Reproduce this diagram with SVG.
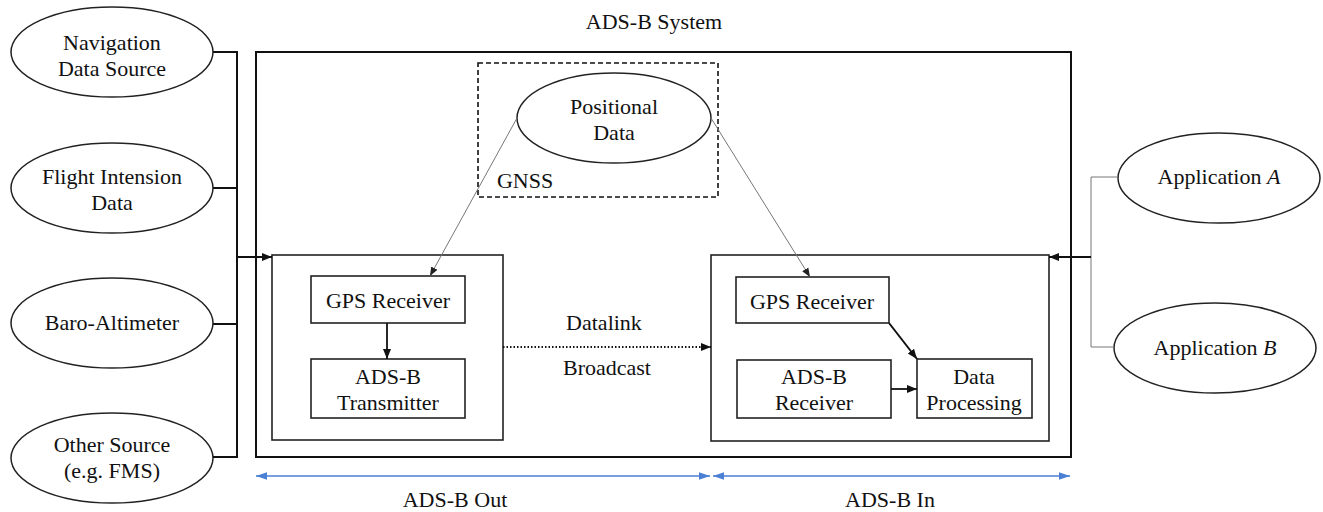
<svg xmlns="http://www.w3.org/2000/svg" width="1323" height="512" viewBox="0 0 1323 512" font-family="Liberation Serif, serif">
<style>
text{font-family:"Liberation Serif",serif;font-size:22px;fill:#111;text-anchor:middle}
.el{fill:#fff;stroke:#222;stroke-width:1.5}
.box{fill:#fff;stroke:#222;stroke-width:1.6}
.thick{fill:none;stroke:#111;stroke-width:2}
.thin{fill:none;stroke:#777;stroke-width:1}
.blue{fill:none;stroke:#4a7fd4;stroke-width:1.3}
</style>
<defs>
<marker id="ah" viewBox="0 0 10 10" refX="10" refY="5" markerWidth="10" markerHeight="10" markerUnits="userSpaceOnUse" orient="auto"><path d="M0,1 L10,5 L0,9 Z" fill="#111"/></marker>
<marker id="ahs" viewBox="0 0 10 10" refX="10" refY="5" markerWidth="9" markerHeight="9" markerUnits="userSpaceOnUse" orient="auto"><path d="M0,1 L10,5 L0,9 Z" fill="#222"/></marker>
<marker id="ab" viewBox="0 0 10 10" refX="10" refY="5" markerWidth="11" markerHeight="11" markerUnits="userSpaceOnUse" orient="auto"><path d="M0,1.5 L10,5 L0,8.5 Z" fill="#4a7fd4"/></marker>
<marker id="abs" viewBox="0 0 10 10" refX="0" refY="5" markerWidth="11" markerHeight="11" markerUnits="userSpaceOnUse" orient="auto"><path d="M10,1.5 L0,5 L10,8.5 Z" fill="#4a7fd4"/></marker>
</defs>

<g id="system">
<rect x="256" y="52" width="815" height="405" class="thick"/>
<text x="654" y="29" font-family="Liberation Serif, serif">ADS-B System</text>
</g>

<g id="gnss">
<rect x="478" y="63" width="240" height="134" fill="none" stroke="#111" stroke-width="1.6" stroke-dasharray="5,3"/>
<text x="525" y="188">GNSS</text>
</g>
<g id="positional">
<ellipse cx="614" cy="118" rx="97" ry="45" class="el"/>
<text x="614" y="114">Positional</text>
<text x="614" y="140">Data</text>
</g>

<g id="ads-b-out">
<rect x="272" y="255" width="231" height="185" class="box"/>
</g>
<g id="gps-out">
<rect x="311" y="276" width="154" height="47" class="box"/>
<text x="388" y="308">GPS Receiver</text>
</g>
<g id="transmitter">
<rect x="311" y="359" width="154" height="59" class="box"/>
<text x="388" y="384">ADS-B</text>
<text x="388" y="410">Transmitter</text>
</g>

<g id="ads-b-in">
<rect x="711" y="255" width="338" height="186" class="box"/>
</g>
<g id="gps-in">
<rect x="736" y="277" width="153" height="46" class="box"/>
<text x="812" y="309">GPS Receiver</text>
</g>
<g id="receiver">
<rect x="737" y="360" width="154" height="58" class="box"/>
<text x="814" y="384">ADS-B</text>
<text x="814" y="410">Receiver</text>
</g>
<g id="processing">
<rect x="917" y="359" width="115" height="59" class="box"/>
<text x="974" y="384">Data</text>
<text x="974" y="410">Processing</text>
</g>

<g id="nav">
<ellipse cx="112" cy="52" rx="101" ry="45" class="el"/>
<text x="112" y="50">Navigation</text>
<text x="112" y="76">Data Source</text>
</g>
<g id="flight">
<ellipse cx="112" cy="188" rx="101" ry="45" class="el"/>
<text x="112" y="184">Flight Intension</text>
<text x="112" y="210">Data</text>
</g>
<g id="baro">
<ellipse cx="112" cy="323" rx="101" ry="45" class="el"/>
<text x="112" y="330">Baro-Altimeter</text>
</g>
<g id="other">
<ellipse cx="112" cy="458" rx="101" ry="45" class="el"/>
<text x="112" y="452">Other Source</text>
<text x="112" y="478">(e.g. FMS)</text>
</g>

<g id="appA">
<ellipse cx="1219" cy="178" rx="101" ry="45" class="el"/>
<text x="1219" y="184">Application <tspan font-style="italic">A</tspan></text>
</g>
<g id="appB">
<ellipse cx="1215" cy="348" rx="101" ry="45" class="el"/>
<text x="1215" y="355">Application <tspan font-style="italic">B</tspan></text>
</g>

<g id="connectors">
<path d="M213,52 H237 V457 H213" class="thick"/>
<path d="M213,188 H237 M213,324 H237" class="thick"/>
<path d="M237,257 H272" class="thick" marker-end="url(#ah)"/>
<path d="M1118,177 H1091 V347 H1114" class="thin"/>
<path d="M1091,257 H1049" class="thick" marker-end="url(#ah)"/>
<path d="M517,118 L430,276" class="thin" marker-end="url(#ahs)"/>
<path d="M711,118 L810,277" class="thin" marker-end="url(#ahs)"/>
<path d="M387,323 V359" fill="none" stroke="#111" stroke-width="1.8" marker-end="url(#ah)"/>
<path d="M889,323 L917,359" fill="none" stroke="#111" stroke-width="2" marker-end="url(#ah)"/>
<path d="M891,389 H917" fill="none" stroke="#111" stroke-width="1.8" marker-end="url(#ah)"/>
<path d="M503,347 H711" fill="none" stroke="#111" stroke-width="1.8" stroke-dasharray="1.5,2" marker-end="url(#ah)"/>
<text x="604" y="330">Datalink</text>
<text x="607" y="375">Broadcast</text>
<path d="M256,476 H710" class="blue" marker-start="url(#abs)" marker-end="url(#ab)"/>
<path d="M713,476 H1070" class="blue" marker-start="url(#abs)" marker-end="url(#ab)"/>
<text x="455" y="507">ADS-B Out</text>
<text x="890" y="507">ADS-B In</text>
</g>
</svg>
